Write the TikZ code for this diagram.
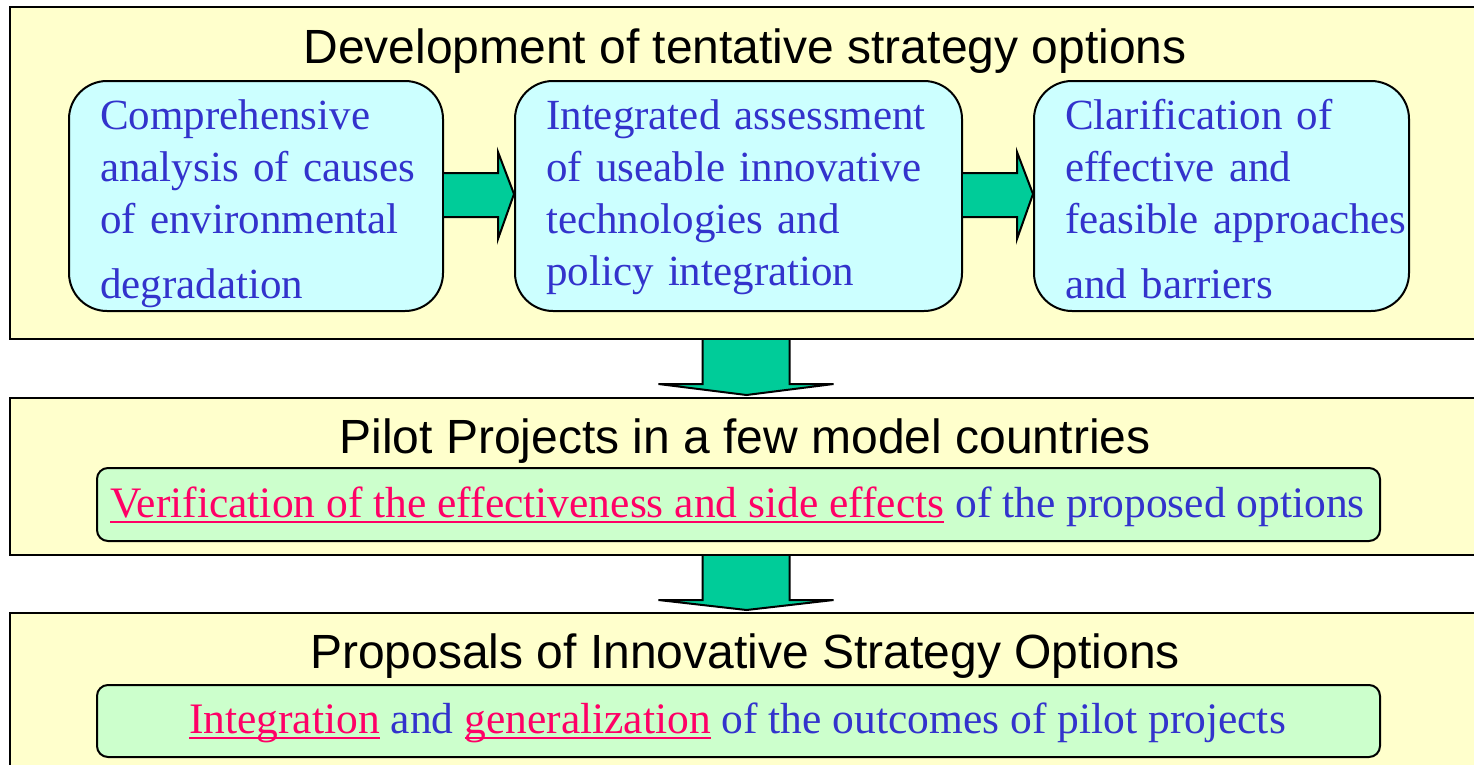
\documentclass[tikz,border=0pt]{standalone}
\usepackage{fontspec}
\setmainfont{Liberation Serif}
\newfontfamily\titlefont{Liberation Sans}
\usetikzlibrary{calc}
\definecolor{bgyellow}{HTML}{FFFFCC}
\definecolor{boxcyan}{HTML}{CCFFFF}
\definecolor{boxgreen}{HTML}{CCFFCC}
\definecolor{arrowgreen}{HTML}{00CC99}
\definecolor{txtblue}{HTML}{3333CC}
\definecolor{txtpink}{HTML}{FF0066}
\newcommand\myul[1]{\setbox0\hbox{#1}\rlap{\rule[-6pt]{\wd0}{2.2pt}}\box0}
\tikzset{
  outerbox/.style={draw=black, line width=2pt, fill=bgyellow, inner sep=0pt, anchor=north west},
  cyanbox/.style={draw=black, line width=2pt, fill=boxcyan, rounded corners=38pt, inner sep=0pt, anchor=north west},
  greenbox/.style={draw=black, line width=2pt, fill=boxgreen, rounded corners=11pt, inner sep=0pt, anchor=north west},
  blockarrow/.style={draw=black, line width=2pt, fill=arrowgreen, line join=miter},
  titletext/.style={font=\titlefont\fontsize{48}{56}\selectfont, text=black, inner sep=0pt, anchor=base},
  bodytext/.style={font=\fontsize{43}{52}\selectfont, text=txtblue, inner sep=0pt, anchor=base west, align=left, text width=440pt},
  greentext/.style={font=\fontsize{43.5}{52}\selectfont, text=txtblue, inner sep=0pt, anchor=base},
}
\begin{document}
\begin{tikzpicture}[x=1pt,y=-1pt]
\useasboundingbox (0,0) rectangle (1474,764);
\fill[white] (0,0) rectangle (1474,764);
% outer panels
\node[outerbox, minimum width=1473pt, minimum height=332pt] (P1) at (9,6) {};
\node[outerbox, minimum width=1473pt, minimum height=157pt] (P2) at (9,397) {};
\node[outerbox, minimum width=1473pt, minimum height=160pt] (P3) at (9,612) {};
% titles
\node[titletext] (T1) at (745,63) {Development of tentative strategy options};
\node[titletext] (T2) at (745,453) {Pilot Projects in a few model countries};
\node[titletext] (T3) at (745,668) {Proposals of Innovative Strategy Options};
% cyan boxes
\node[cyanbox, minimum width=374pt, minimum height=230pt] (A) at (68,80) {};
\node[cyanbox, minimum width=447pt, minimum height=230pt] (B) at (514,80) {};
\node[cyanbox, minimum width=375pt, minimum height=230pt] (C) at (1033,80) {};
\node[bodytext] (At) at (100,129) {Comprehensive\\analysis of causes\\of environmental\\[13pt]degradation};
\node[bodytext] (Bt) at (546,129) {Integrated assessment\\of useable innovative\\technologies and\\policy integration};
\node[bodytext] (Ct) at (1065,129) {Clarification of\\effective and\\feasible approaches\\[13pt]and barriers};
% right arrows
\foreach \s/\t in {A/B, B/C}{
  \draw[blockarrow] ($(\s.east)+(0,-23)$) -- ($(\s.east)+(54,-23)$) -- ($(\s.east)+(54,-44)$)
    -- ($(\t.west)+(0,-2)$) -- ($(\s.east)+(54,43)$) -- ($(\s.east)+(54,21)$) -- ($(\s.east)+(0,21)$);
}
% green boxes
\node[greenbox, minimum width=1283pt, minimum height=73pt] (G2) at (96,467) {};
\node[greenbox, minimum width=1283pt, minimum height=72pt] (G3) at (96,684) {};
\node[greentext] (G2t) at (737.5,517) {\textcolor{txtpink}{\myul{Verification of the effectiveness and side effects}} of the proposed options};
\node[greentext] (G3t) at (737.5,733) {\textcolor{txtpink}{\myul{Integration}} and \textcolor{txtpink}{\myul{generalization}} of the outcomes of pilot projects};
% down arrows
\foreach \s/\t in {P1/P2, P2/P3}{
  \draw[blockarrow] ($(\s.south)+(-44,0)$) -- ($(\s.south)+(-44,44)$) -- ($(\s.south)+(-88,44)$)
    -- ($(\t.north)+(0,-2)$) -- ($(\s.south)+(87,44)$) -- ($(\s.south)+(43,44)$) -- ($(\s.south)+(43,0)$);
}
\end{tikzpicture}
\end{document}
